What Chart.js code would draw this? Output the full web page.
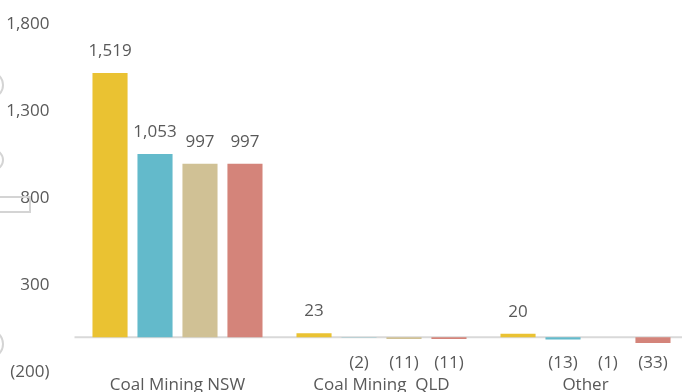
<!DOCTYPE html>
<html lang="en">
<head>
    <meta charset="UTF-8">
    <title>Coal Mining by Region</title>
    <style>
        html, body {
            margin: 0;
            padding: 0;
            background-color: white;
            overflow: hidden;
            width: 682px;
            height: 392px;
        }
        #barChart {
            display: block;
        }
    </style>
    <script src="https://cdn.jsdelivr.net/npm/chart.js"></script>
</head>
<body>
    <canvas id="barChart" width="690" height="400"></canvas>

    <script>
        // data
        const categories = ['Coal Mining NSW', 'Coal Mining  QLD', 'Other'];
        const series1 = [1519, 23, 20];
        const series2 = [1053, -2, -13];
        const series3 = [997, -11, -1];
        const series4 = [997, -11, -33];
        const yTicks = [-200, 300, 800, 1300, 1800];

        const colors = ['#EAC232', '#63BACB', '#D0C195', '#D4847A'];
        const textColor = '#595959';
        const fontFamily = '"Open Sans", Lato, sans-serif';

        function fmt(v) {
            const s = Math.abs(v).toLocaleString('en-US');
            return v < 0 ? '(' + s + ')' : s;
        }

        // zero line across the plot
        const zeroLine = {
            id: 'zeroLine',
            beforeDatasetsDraw(chart) {
                const ctx = chart.ctx;
                const y = chart.scales.y.getPixelForValue(0);
                ctx.save();
                ctx.strokeStyle = '#D9D9D9';
                ctx.lineWidth = 2;
                ctx.beginPath();
                ctx.moveTo(chart.chartArea.left - 1, y);
                ctx.lineTo(chart.width, y);
                ctx.stroke();
                ctx.restore();
            }
        };

        // value labels above positive bars, below the axis for negatives
        const valueLabels = {
            id: 'valueLabels',
            afterDatasetsDraw(chart) {
                const ctx = chart.ctx;
                const zero = chart.scales.y.getPixelForValue(0);
                ctx.save();
                ctx.font = '17px ' + fontFamily;
                ctx.fillStyle = textColor;
                ctx.textAlign = 'center';
                ctx.textBaseline = 'middle';
                chart.data.datasets.forEach((ds, i) => {
                    chart.getDatasetMeta(i).data.forEach((bar, j) => {
                        const v = ds.data[j];
                        const y = v >= 0 ? bar.y - 22 : zero + 26;
                        ctx.fillText(fmt(v), bar.x, y);
                    });
                });
                ctx.restore();
            }
        };

        // grey bits cut off at the left edge of the original screenshot
        const edgeBits = {
            id: 'edgeBits',
            afterDraw(chart) {
                const ctx = chart.ctx;
                ctx.save();
                ctx.strokeStyle = '#D4D4D4';
                ctx.lineWidth = 2;
                [[85, 13], [160, 10], [344, 14]].forEach(([cy, r]) => {
                    ctx.beginPath();
                    ctx.arc(-r + 3, cy, r, -Math.PI / 2, Math.PI / 2);
                    ctx.stroke();
                });
                ctx.beginPath();
                ctx.moveTo(0, 197);
                ctx.lineTo(30, 197);
                ctx.lineTo(30, 212);
                ctx.lineTo(0, 212);
                ctx.stroke();
                ctx.restore();
            }
        };

        const ctx = document.getElementById('barChart').getContext('2d');
        new Chart(ctx, {
            type: 'bar',
            data: {
                labels: categories,
                datasets: [series1, series2, series3, series4].map((d, i) => ({
                    label: 'Series ' + (i + 1),
                    data: d,
                    backgroundColor: colors[i],
                    borderWidth: 0,
                    barPercentage: 0.78,
                    categoryPercentage: 0.882
                }))
            },
            options: {
                responsive: false,
                animation: false,
                layout: { padding: { top: 24, right: 2.5, left: 0, bottom: 0 } },
                plugins: {
                    legend: { display: false },
                    tooltip: { enabled: false }
                },
                scales: {
                    x: {
                        grid: { display: false, drawTicks: false },
                        border: { display: false },
                        ticks: {
                            padding: 3,
                            color: textColor,
                            font: { family: fontFamily, size: 17 }
                        },
                        afterFit(scale) { scale.height = 28; }
                    },
                    y: {
                        min: -200,
                        max: 1800,
                        grid: { display: false, drawTicks: false },
                        border: { display: false },
                        afterBuildTicks(scale) {
                            scale.ticks = yTicks.map(v => ({ value: v }));
                        },
                        ticks: {
                            padding: 26,
                            color: textColor,
                            font: { family: fontFamily, size: 17 },
                            callback: v => fmt(v)
                        },
                        afterFit(scale) {
                            scale.width = 75.5;
                            scale.paddingTop = 0;
                            scale.paddingBottom = 0;
                        }
                    }
                }
            },
            plugins: [zeroLine, valueLabels, edgeBits]
        });
    </script>
</body>
</html>
